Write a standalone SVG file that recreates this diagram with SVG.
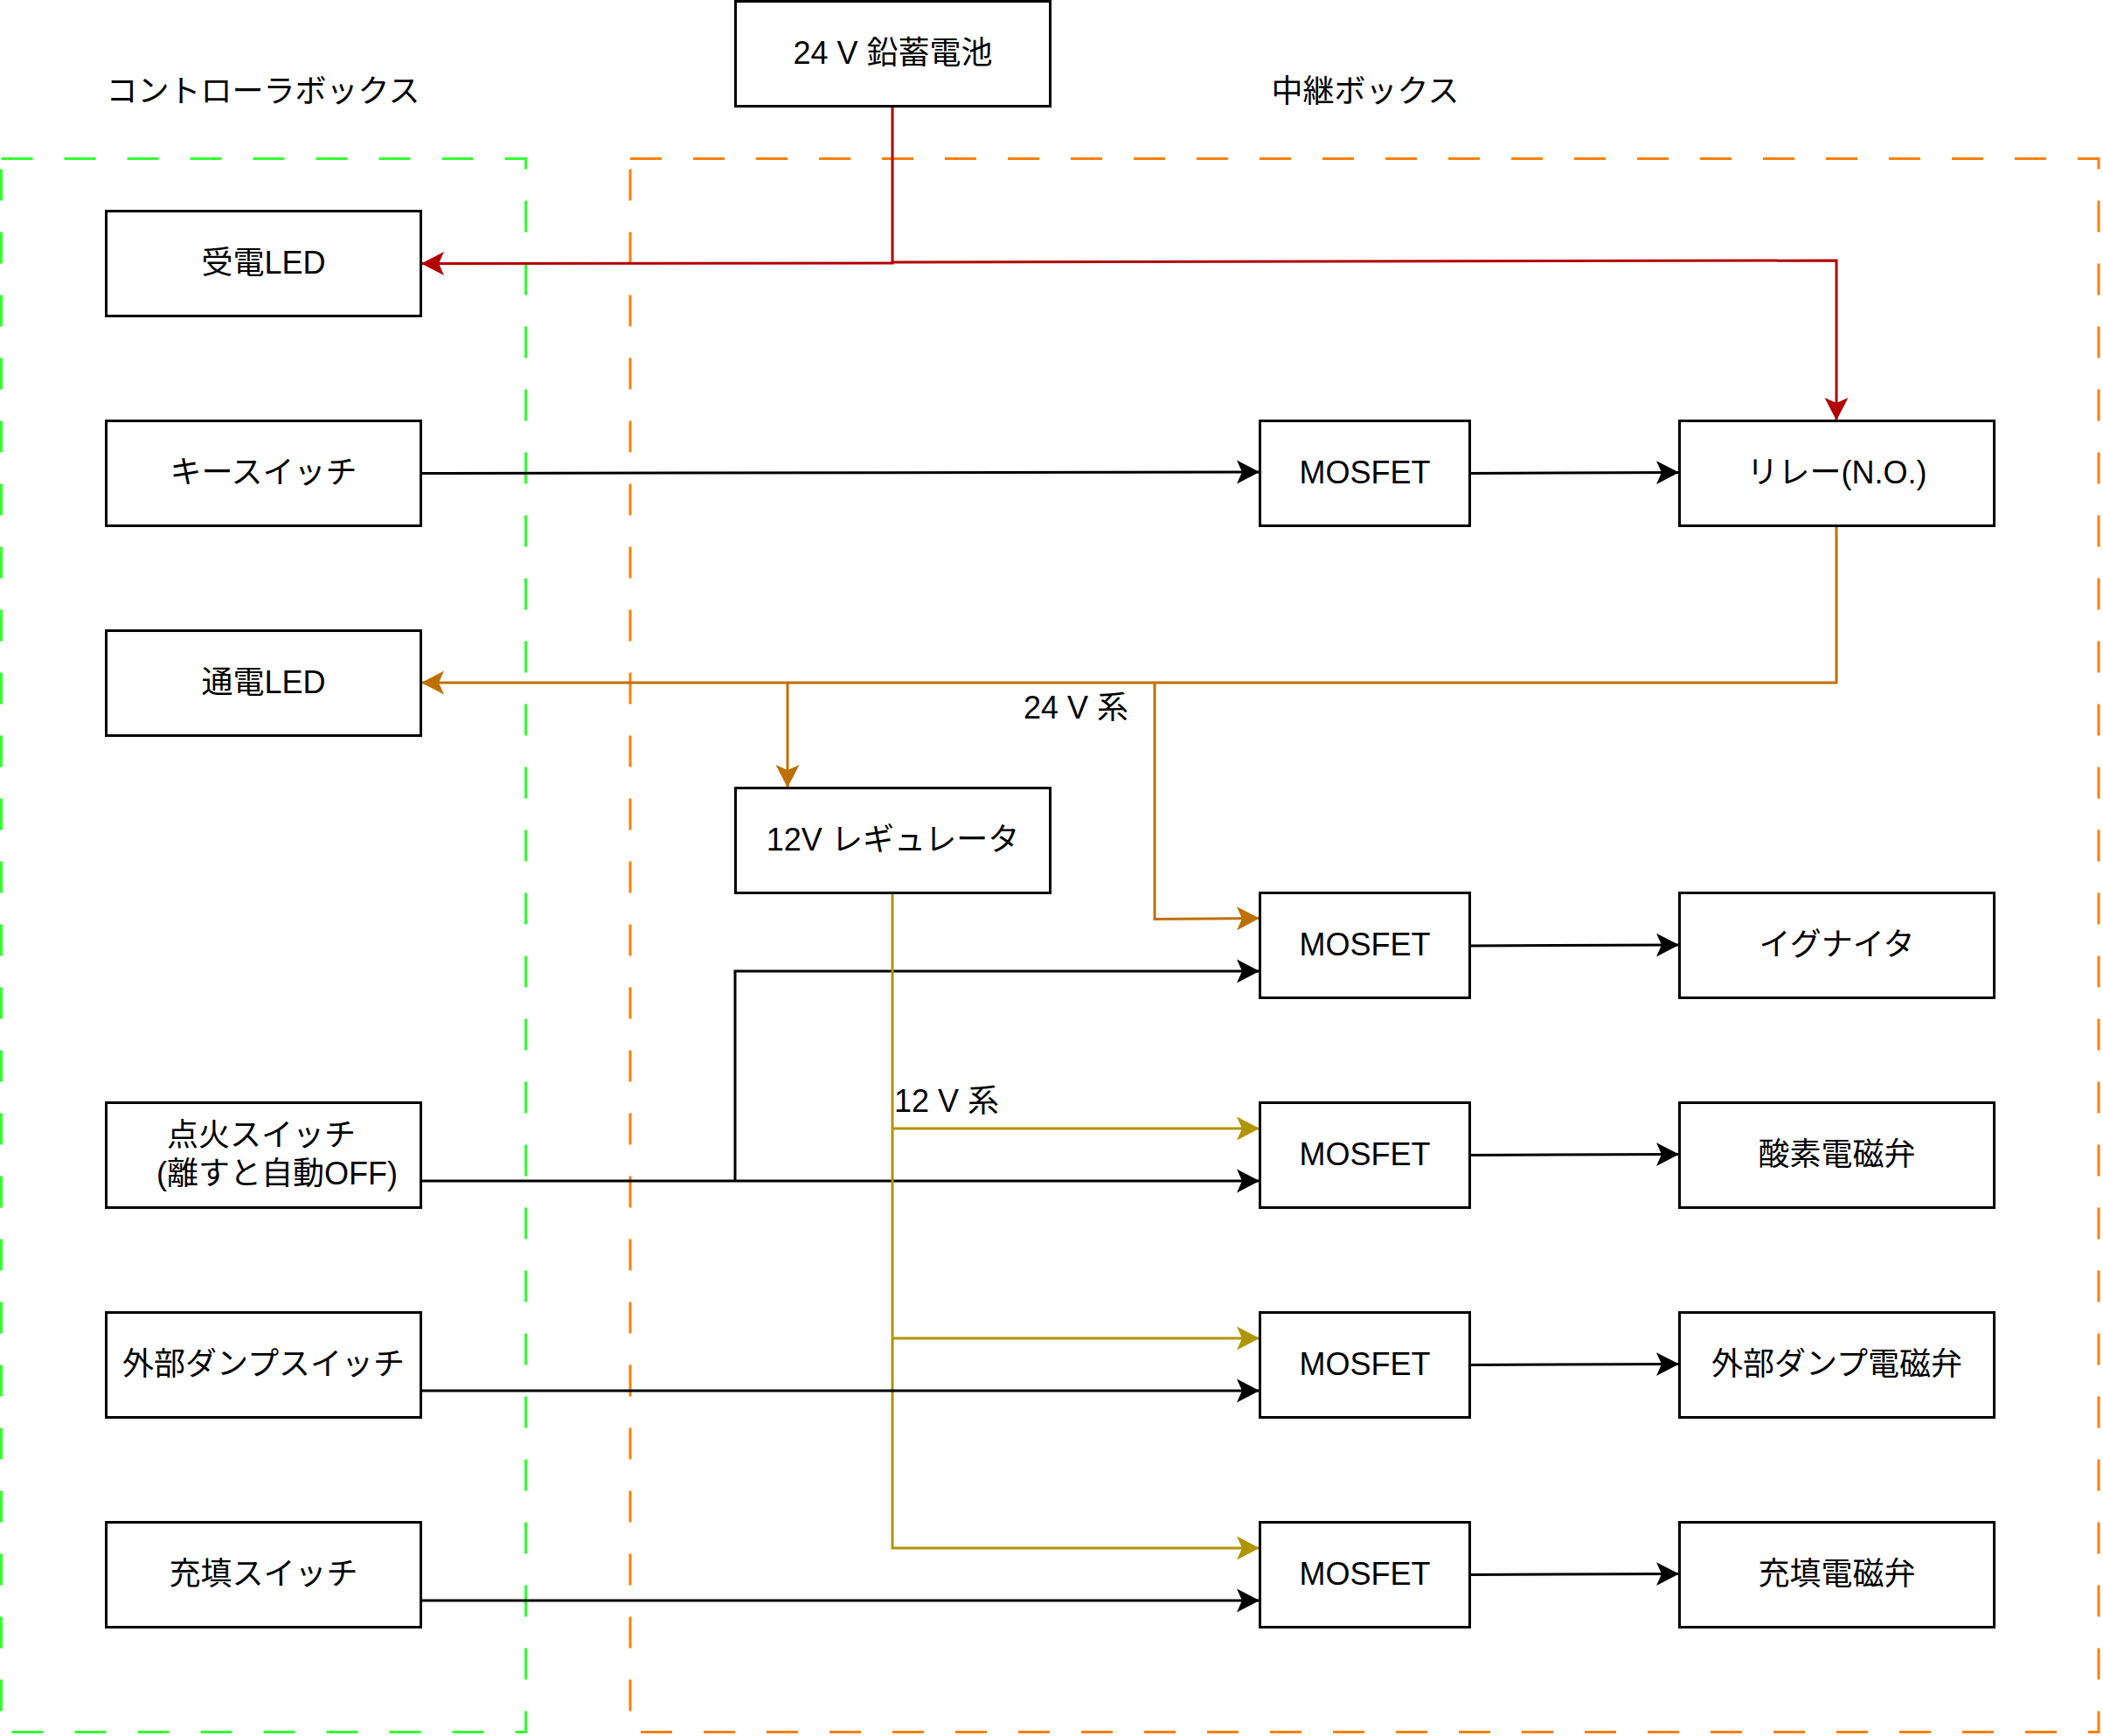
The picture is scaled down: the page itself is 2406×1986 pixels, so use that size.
<svg xmlns="http://www.w3.org/2000/svg" width="2406" height="1986" viewBox="0 0 2406 1986">
<style>
.box{fill:#ffffff;stroke:#000000;stroke-width:3}
.t{font-family:"Liberation Sans","Noto Sans CJK JP",sans-serif;font-size:36px;fill:#000000;text-anchor:middle}
.tl{font-family:"Liberation Sans","Noto Sans CJK JP",sans-serif;font-size:36px;fill:#000000}
.grp{fill:none;stroke-width:3;stroke-dasharray:36 36}
.c{fill:none;stroke-width:3}
.blk{stroke:#000000}
.red{stroke:#B20000}
.org{stroke:#BD7000}
.yel{stroke:#B09500}
</style>
<defs>
<marker id="aBlk" markerUnits="userSpaceOnUse" markerWidth="30" markerHeight="30" refX="26" refY="14" orient="auto"><path d="M26 14 L0 0.5 L6 14 L0 27.5 Z" fill="#000000"/></marker>
<marker id="aRed" markerUnits="userSpaceOnUse" markerWidth="30" markerHeight="30" refX="26" refY="14" orient="auto"><path d="M26 14 L0 0.5 L6 14 L0 27.5 Z" fill="#B20000"/></marker>
<marker id="aOrg" markerUnits="userSpaceOnUse" markerWidth="30" markerHeight="30" refX="26" refY="14" orient="auto"><path d="M26 14 L0 0.5 L6 14 L0 27.5 Z" fill="#BD7000"/></marker>
<marker id="aYel" markerUnits="userSpaceOnUse" markerWidth="30" markerHeight="30" refX="26" refY="14" orient="auto"><path d="M26 14 L0 0.5 L6 14 L0 27.5 Z" fill="#B09500"/></marker>
</defs>
<rect width="2406" height="1986" fill="#ffffff"/>

<g id="groups">
<rect id="controller-box" class="grp" x="1.5" y="181.5" width="600" height="1800" stroke="#33FF33"/>
<rect id="relay-box" class="grp" x="721" y="181.5" width="1680" height="1800" stroke="#FF8000"/>
<text class="t" x="301" y="117">コントローラボックス</text>
<text class="t" x="1562" y="117">中継ボックス</text>
</g>

<g id="connectors">
<path class="c red" d="M1021 121 V301 L482 301.5" marker-end="url(#aRed)"/>
<path class="c red" d="M1021 300 L2101 298 V481" marker-end="url(#aRed)"/>
<path class="c blk" d="M482 541.5 L1441 540" marker-end="url(#aBlk)"/>
<path class="c blk" d="M1681 541.5 L1921 540.5" marker-end="url(#aBlk)"/>
<path class="c org" d="M2101 601 V781 H482" marker-end="url(#aOrg)"/>
<path class="c org" d="M901 781 V901" marker-end="url(#aOrg)"/>
<path class="c org" d="M1321 781 V1051.5 L1441 1050.5" marker-end="url(#aOrg)"/>
<path class="c blk" d="M841 1351 V1111 H1441" marker-end="url(#aBlk)"/>
<path class="c blk" d="M482 1351 H1441" marker-end="url(#aBlk)"/>
<path class="c yel" d="M1021 1021 V1771 H1441" marker-end="url(#aYel)"/>
<path class="c yel" d="M1021 1291 H1441" marker-end="url(#aYel)"/>
<path class="c yel" d="M1021 1531 H1441" marker-end="url(#aYel)"/>
<path class="c blk" d="M482 1591 H1441" marker-end="url(#aBlk)"/>
<path class="c blk" d="M482 1831 H1441" marker-end="url(#aBlk)"/>
<path class="c blk" d="M1681 1082 L1921 1081" marker-end="url(#aBlk)"/>
<path class="c blk" d="M1681 1321.5 L1921 1320.5" marker-end="url(#aBlk)"/>
<path class="c blk" d="M1681 1561.5 L1921 1560.5" marker-end="url(#aBlk)"/>
<path class="c blk" d="M1681 1801.5 L1921 1800.5" marker-end="url(#aBlk)"/>
<text class="tl" x="1171" y="822">24 V 系</text>
<text class="tl" x="1023" y="1272">12 V 系</text>
</g>

<g id="battery"><rect class="box" x="841.5" y="1.5" width="360" height="120"/><text class="t" x="1021.5" y="73">24 V 鉛蓄電池</text></g>
<g id="led-power"><rect class="box" x="121.5" y="241.5" width="360" height="120"/><text class="t" x="301.5" y="313">受電LED</text></g>
<g id="key-switch"><rect class="box" x="121.5" y="481.5" width="360" height="120"/><text class="t" x="301.5" y="553">キースイッチ</text></g>
<g id="led-on"><rect class="box" x="121.5" y="721.5" width="360" height="120"/><text class="t" x="301.5" y="793">通電LED</text></g>
<g id="ignite-switch"><rect class="box" x="121.5" y="1261.5" width="360" height="120"/><text class="t" x="299" y="1311">点火スイッチ</text><text class="t" x="317" y="1355">(離すと自動OFF)</text></g>
<g id="dump-switch"><rect class="box" x="121.5" y="1501.5" width="360" height="120"/><text class="t" x="301.5" y="1573">外部ダンプスイッチ</text></g>
<g id="fill-switch"><rect class="box" x="121.5" y="1741.5" width="360" height="120"/><text class="t" x="301.5" y="1813">充填スイッチ</text></g>
<g id="regulator"><rect class="box" x="841.5" y="901.5" width="360" height="120"/><text class="t" x="1021.5" y="973">12V レギュレータ</text></g>

<g id="mosfet-relay"><rect class="box" x="1441.5" y="481.5" width="240" height="120"/><text class="t" x="1561.5" y="553">MOSFET</text></g>
<g id="mosfet-igniter"><rect class="box" x="1441.5" y="1021.5" width="240" height="120"/><text class="t" x="1561.5" y="1093">MOSFET</text></g>
<g id="mosfet-oxygen"><rect class="box" x="1441.5" y="1261.5" width="240" height="120"/><text class="t" x="1561.5" y="1333">MOSFET</text></g>
<g id="mosfet-dump"><rect class="box" x="1441.5" y="1501.5" width="240" height="120"/><text class="t" x="1561.5" y="1573">MOSFET</text></g>
<g id="mosfet-fill"><rect class="box" x="1441.5" y="1741.5" width="240" height="120"/><text class="t" x="1561.5" y="1813">MOSFET</text></g>

<g id="relay"><rect class="box" x="1921.5" y="481.5" width="360" height="120"/><text class="t" x="2101.5" y="553">リレー(N.O.)</text></g>
<g id="igniter"><rect class="box" x="1921.5" y="1021.5" width="360" height="120"/><text class="t" x="2101.5" y="1093">イグナイタ</text></g>
<g id="oxygen-valve"><rect class="box" x="1921.5" y="1261.5" width="360" height="120"/><text class="t" x="2101.5" y="1333">酸素電磁弁</text></g>
<g id="dump-valve"><rect class="box" x="1921.5" y="1501.5" width="360" height="120"/><text class="t" x="2101.5" y="1573">外部ダンプ電磁弁</text></g>
<g id="fill-valve"><rect class="box" x="1921.5" y="1741.5" width="360" height="120"/><text class="t" x="2101.5" y="1813">充填電磁弁</text></g>
</svg>
